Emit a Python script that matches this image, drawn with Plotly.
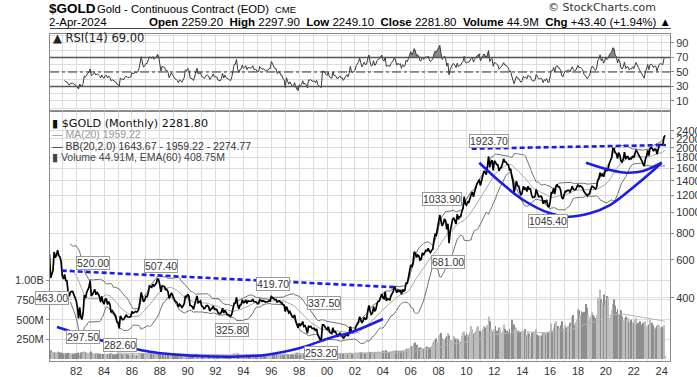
import numpy as np
import pandas as pd
import plotly.graph_objects as go

# ---------------- data (monthly, first bar = Jan 1980) ----------------
first_year = 1980

close_1980s = [
    653, 637, 494, 518, 535, 653, 614, 631, 666, 629, 619, 590,
    506, 489, 513, 482, 479, 426, 406, 425, 428, 427, 414, 400,
    387, 362, 320, 361, 325, 317, 342, 411, 397, 423, 436, 448,
    481, 408, 414, 429, 437, 413, 423, 416, 405, 382, 405, 382,
    373, 394, 394, 372, 384, 373, 342, 348, 341, 333, 329, 309,
    306, 288, 329, 321, 316, 317, 327, 333, 326, 325, 325, 327,
    345, 339, 344, 345, 343, 346, 357, 384, 423, 401, 383, 391,
    405, 405, 421, 453, 451, 447, 462, 453, 460, 468, 492, 484,
    458, 426, 457, 451, 451, 436, 437, 427, 397, 411, 421, 410,
    394, 387, 383, 377, 362, 373, 368, 359, 367, 375, 408, 401,
]
close_1990s = [
    415, 407, 368, 367, 363, 353, 372, 387, 408, 379, 384, 386,
    366, 363, 355, 358, 367, 368, 363, 347, 354, 357, 366, 353,
    354, 353, 341, 337, 337, 343, 357, 340, 349, 339, 334, 333,
    330, 328, 337, 354, 377, 378, 401, 371, 355, 369, 371, 391,
    379, 381, 391, 376, 387, 385, 384, 385, 394, 383, 383, 382,
    375, 376, 392, 389, 385, 387, 383, 382, 383, 383, 387, 387,
    405, 400, 396, 392, 392, 382, 385, 386, 379, 379, 371, 369,
    345, 364, 352, 340, 345, 334, 326, 325, 333, 311, 296, 290,
    304, 297, 301, 310, 294, 296, 288, 273, 294, 292, 294, 288,
    287, 288, 280, 286, 268, 262, 255, 255, 299, 299, 292, 288,
]
close_2000s = [
    284, 293, 277, 274, 272, 290, 277, 278, 273, 265, 270, 273,
    266, 267, 258, 264, 267, 271, 265, 274, 293, 279, 276, 279,
    282, 296, 301, 309, 326, 318, 305, 313, 324, 317, 319, 347,
    368, 348, 334, 338, 363, 346, 354, 375, 385, 386, 398, 416,
    400, 396, 426, 387, 395, 394, 391, 408, 416, 428, 453, 438,
    422, 434, 428, 435, 415, 437, 429, 434, 470, 464, 495, 517,
    568, 556, 582, 655, 643, 616, 632, 626, 599, 604, 646, 632,
    650, 665, 661, 679, 659, 650, 666, 673, 743, 789, 783, 834,
    923, 971, 916, 864, 885, 930, 918, 833, 884, 718, 816, 884,
    928, 943, 916, 883, 979, 927, 955, 955, 1008, 1040, 1182, 1096,
]
close_2010s = [
    1081, 1118, 1113, 1180, 1207, 1244, 1181, 1248, 1307, 1357, 1384, 1421,
    1333, 1411, 1439, 1556, 1536, 1500, 1628, 1825, 1620, 1725, 1746, 1566,
    1738, 1710, 1669, 1664, 1560, 1604, 1622, 1687, 1773, 1719, 1712, 1675,
    1664, 1578, 1595, 1472, 1392, 1234, 1312, 1395, 1326, 1323, 1250, 1202,
    1240, 1321, 1284, 1296, 1250, 1322, 1282, 1287, 1210, 1171, 1175, 1184,
    1278, 1213, 1183, 1183, 1190, 1172, 1095, 1135, 1115, 1142, 1065, 1061,
    1118, 1234, 1233, 1293, 1217, 1321, 1350, 1312, 1313, 1272, 1173, 1152,
    1211, 1253, 1249, 1267, 1268, 1242, 1270, 1321, 1281, 1271, 1275, 1303,
    1345, 1318, 1325, 1315, 1299, 1253, 1233, 1206, 1192, 1215, 1220, 1282,
    1321, 1316, 1293, 1284, 1306, 1413, 1437, 1529, 1472, 1514, 1465, 1523,
]
close_2020s = [
    1589, 1566, 1597, 1694, 1751, 1800, 1986, 1978, 1896, 1880, 1780, 1895,
    1850, 1734, 1715, 1769, 1906, 1771, 1817, 1818, 1757, 1784, 1776, 1829,
    1797, 1909, 1954, 1911, 1848, 1817, 1782, 1726, 1672, 1640, 1768, 1826,
    1945, 1836, 1986, 1999, 1982, 1929, 1970, 1966, 1870, 1995, 2057, 2072,
    2067, 2054, 2238, 2282,
]

# monthly volume, millions
volume_m_1980s = [
    95, 105, 110, 90, 85, 88, 80, 82, 95, 85, 78, 80,
    78, 70, 75, 72, 68, 80, 75, 70, 72, 66, 62, 70,
    72, 75, 85, 70, 78, 90, 82, 95, 88, 80, 72, 70,
    90, 95, 80, 70, 68, 72, 65, 70, 66, 68, 62, 64,
    66, 62, 60, 65, 70, 64, 72, 68, 60, 62, 58, 66,
    70, 75, 80, 66, 60, 62, 58, 64, 60, 56, 58, 55,
    58, 60, 56, 52, 55, 54, 58, 66, 78, 70, 62, 60,
    64, 60, 66, 80, 72, 62, 68, 62, 66, 78, 72, 70,
    68, 66, 62, 58, 56, 60, 54, 58, 62, 56, 58, 60,
    56, 54, 52, 50, 58, 56, 52, 54, 50, 52, 60, 62,
]
volume_m_1990s = [
    62, 58, 56, 52, 50, 48, 54, 66, 60, 56, 50, 48,
    58, 52, 50, 46, 48, 50, 48, 52, 48, 46, 50, 48,
    46, 44, 48, 46, 44, 50, 52, 48, 50, 46, 48, 46,
    48, 50, 52, 62, 72, 66, 80, 70, 62, 58, 56, 60,
    58, 54, 60, 56, 54, 58, 54, 52, 56, 54, 50, 52,
    50, 48, 56, 52, 50, 52, 50, 48, 52, 50, 48, 50,
    62, 66, 56, 52, 54, 56, 52, 50, 54, 56, 58, 60,
    66, 64, 62, 60, 64, 62, 66, 64, 70, 76, 80, 74,
    82, 70, 72, 74, 70, 72, 68, 76, 84, 72, 70, 66,
    64, 66, 68, 70, 80, 76, 72, 74, 96, 100, 78, 70,
]
volume_m_2000s = [
    76, 86, 72, 70, 66, 74, 64, 62, 66, 60, 64, 62,
    66, 62, 66, 60, 68, 62, 58, 62, 80, 68, 62, 60,
    70, 78, 74, 76, 86, 84, 80, 72, 78, 74, 70, 82,
    96, 90, 88, 80, 92, 84, 82, 90, 96, 92, 90, 100,
    104, 96, 108, 110, 96, 92, 90, 94, 100, 104, 112, 108,
    102, 98, 104, 100, 106, 110, 104, 112, 130, 126, 136, 142,
    170, 160, 150, 200, 210, 180, 150, 140, 150, 130, 140, 135,
    150, 140, 160, 150, 145, 150, 170, 210, 230, 240, 260, 220,
    300, 310, 330, 260, 240, 250, 270, 290, 330, 300, 250, 240,
    250, 290, 260, 230, 260, 250, 220, 230, 300, 340, 350, 300,
]
volume_m_2010s = [
    330, 310, 280, 340, 420, 380, 320, 340, 360, 400, 420, 330,
    360, 350, 380, 420, 400, 380, 430, 540, 480, 380, 360, 340,
    380, 420, 360, 330, 400, 380, 330, 360, 440, 380, 350, 360,
    340, 380, 330, 500, 400, 440, 380, 400, 360, 350, 330, 340,
    360, 340, 380, 310, 300, 340, 320, 280, 330, 340, 350, 320,
    380, 310, 300, 300, 280, 300, 340, 330, 320, 340, 330, 310,
    360, 450, 360, 400, 450, 480, 400, 420, 400, 430, 480, 380,
    380, 430, 400, 420, 410, 460, 420, 540, 560, 440, 470, 500,
    640, 620, 560, 610, 590, 600, 520, 700, 650, 560, 520, 540,
    600, 560, 540, 520, 560, 780, 640, 880, 760, 720, 820, 680,
]
volume_m_2020s = [
    750, 800, 780, 520, 560, 620, 700, 760, 680, 600, 640, 560,
    560, 620, 540, 500, 520, 540, 500, 520, 460, 480, 500, 470,
    450, 500, 520, 440, 460, 480, 440, 420, 460, 430, 480, 420,
    420, 440, 500, 410, 460, 430, 400, 380, 420, 440, 430, 400,
    410, 400, 430, 45,
]

x_tick_years = list(range(1982, 2025, 2))
x_tick_text = ["82", "84", "86", "88", "90", "92", "94", "96", "98", "00", "02",
               "04", "06", "08", "10", "12", "14", "16", "18", "20", "22", "24"]
price_ticks = [400, 600, 800, 1000, 1200, 1400, 1600, 1800, 2000, 2200, 2400]
volume_ticks = [250e6, 500e6, 750e6, 1e9]
volume_tick_text = ["250M", "500M", "750M", "1.00B"]
rsi_ticks = [10, 30, 50, 70, 90]

# price-point labels (text, label placement year, label placement price)
label_text = ["463.00", "520.00", "297.50", "282.60", "507.40", "419.70", "325.80",
              "337.50", "253.20", "1033.90", "681.00", "1923.70", "1045.40"]
label_year = [1980.23, 1983.24, 1982.52, 1985.14, 1988.08, 1996.15, 1993.21,
              1999.81, 1999.53, 2008.21, 2008.67, 2011.65, 2015.88]
label_price = [398.8, 580.3, 262.4, 240.8, 561.9, 463.4, 282.8,
               377.9, 221.0, 1153, 586.6, 2148, 911.0]

# hand-drawn trendlines (anchor points: year, price)
cup1_year = [1980.62, 1983.71, 1987.29, 1990.88, 1993.25, 1995.69, 1998.06, 2000.42, 2001.64, 2004.01]
cup1_price = [292.2, 254.1, 224.0, 214.0, 212.4, 216.9, 233.2, 262.4, 274.8, 318.3]
cup2_year = [2010.92, 2012.40, 2014.07, 2015.99, 2017.19, 2018.86, 2020.29, 2021.73, 2023.16, 2024.00]
cup2_price = [1702, 1389, 1141, 989, 954, 989, 1081, 1270, 1519, 1702]
cup3_year = [2018.57, 2020.29, 2021.49, 2022.68, 2024.00]
cup3_price = [1702, 1574, 1529, 1557, 1702]
rim1_year = [1980.96, 2005.01]
rim1_price = [534.6, 447.3]
rim2_year = [2010.37, 2024.31]
rim2_price = [1978.6, 2058]

# ---------------- derived series ----------------
close = np.array(close_1980s + close_1990s + close_2000s + close_2010s + close_2020s, dtype=float)
volume = np.array(volume_m_1980s + volume_m_1990s + volume_m_2000s + volume_m_2010s + volume_m_2020s,
                  dtype=float) * 1e6
n = len(close)
t = first_year + np.arange(n) / 12.0

s = pd.Series(close)
ma20 = s.rolling(20).mean()
sd20 = s.rolling(20).std(ddof=0)
bb_up = ma20 + 2 * sd20
bb_lo = ma20 - 2 * sd20

d = np.diff(close)
gain = np.where(d > 0, d, 0.0)
loss = np.where(d < 0, -d, 0.0)
rsi = np.full(n, np.nan)
ag = gain[:14].mean()
al = loss[:14].mean()
rsi[14] = 100 - 100 / (1 + ag / al) if al > 0 else 100
for i in range(15, n):
    ag = (ag * 13 + gain[i - 1]) / 14
    al = (al * 13 + loss[i - 1]) / 14
    rsi[i] = 100 - 100 / (1 + ag / al) if al > 0 else 100

vol_ema = pd.Series(volume).ewm(span=60, adjust=False).mean().to_numpy()
vol_ema[:59] = np.nan

up = np.r_[True, close[1:] >= close[:-1]]
vol_colors = np.where(up, "#bdbdbd", "#8e8e8e")

# ---------------- layout helpers ----------------
FIG_W, FIG_H = 697, 377
L, R, T, B = 50, 670, 34, 361


def fx(px):
    return (px - L) / (R - L)


def fy(py):
    return (B - py) / (B - T)


split = fy(111)
GRID = "#dddddd"
FRAME = "#8a8a8a"
BLUE = "rgb(28,28,232)"
TICKFONT = dict(family="Liberation Sans, Arial", size=11, color="#333333")

fig = go.Figure()

# volume
fig.add_trace(go.Bar(x=t, y=volume, marker=dict(color=vol_colors, line=dict(width=0)),
                     width=0.8 / 12, xaxis="x", yaxis="y", hoverinfo="skip"))
fig.add_trace(go.Scatter(x=t, y=vol_ema, mode="lines", line=dict(color="#b5b5b5", width=1),
                         xaxis="x", yaxis="y", hoverinfo="skip"))

# bollinger + MA
fig.add_trace(go.Scatter(x=t, y=bb_up, mode="lines", line=dict(color="#707070", width=1),
                         xaxis="x", yaxis="y2", hoverinfo="skip"))
fig.add_trace(go.Scatter(x=t, y=bb_lo, mode="lines", line=dict(color="#707070", width=1),
                         xaxis="x", yaxis="y2", hoverinfo="skip"))
fig.add_trace(go.Scatter(x=t, y=ma20, mode="lines", line=dict(color="#a8a8a8", width=1),
                         xaxis="x", yaxis="y2", hoverinfo="skip"))
# price
fig.add_trace(go.Scatter(x=t, y=close, mode="lines", line=dict(color="#000000", width=1.7),
                         xaxis="x", yaxis="y2", hoverinfo="skip"))

# trendlines
for yr, pr, dash in [(cup1_year, cup1_price, "solid"), (cup2_year, cup2_price, "solid"),
                     (cup3_year, cup3_price, "solid"), (rim1_year, rim1_price, "5px,3px"),
                     (rim2_year, rim2_price, "5px,3px")]:
    fig.add_trace(go.Scatter(x=yr, y=pr, mode="lines",
                             line=dict(color=BLUE, width=2.6, dash=dash, shape="spline"),
                             xaxis="x", yaxis="y2", hoverinfo="skip"))

# RSI with shaded extremes
rsi_valid = ~np.isnan(rsi)
base70 = np.where(rsi_valid, 70.0, np.nan)
base30 = np.where(rsi_valid, 30.0, np.nan)
fig.add_trace(go.Scatter(x=t, y=base70, mode="lines", line=dict(width=0, color="rgba(0,0,0,0)"),
                         xaxis="x2", yaxis="y3", hoverinfo="skip"))
fig.add_trace(go.Scatter(x=t, y=np.maximum(rsi, 70), mode="lines", fill="tonexty",
                         fillcolor="#8a8a8a", line=dict(width=0, color="rgba(0,0,0,0)"),
                         xaxis="x2", yaxis="y3", hoverinfo="skip"))
fig.add_trace(go.Scatter(x=t, y=base30, mode="lines", line=dict(width=0, color="rgba(0,0,0,0)"),
                         xaxis="x2", yaxis="y3", hoverinfo="skip"))
fig.add_trace(go.Scatter(x=t, y=np.minimum(rsi, 30), mode="lines", fill="tonexty",
                         fillcolor="#8a8a8a", line=dict(width=0, color="rgba(0,0,0,0)"),
                         xaxis="x2", yaxis="y3", hoverinfo="skip"))
fig.add_trace(go.Scatter(x=t, y=rsi, mode="lines", line=dict(color="#3a3a3a", width=1),
                         xaxis="x2", yaxis="y3", hoverinfo="skip"))

xaxis_common = dict(range=[1980.12, 2024.6], showgrid=True, gridcolor=GRID, gridwidth=1,
                    minor=dict(tickmode="linear", tick0=1980, dtick=1, showgrid=True,
                               gridcolor=GRID, gridwidth=1, ticks=""),
                    showline=True, mirror=True, linecolor=FRAME, linewidth=1,
                    zeroline=False, ticks="", automargin=False)

fig.update_layout(
    width=FIG_W, height=FIG_H,
    margin=dict(l=L, r=FIG_W - R, t=T, b=FIG_H - B, autoexpand=False),
    paper_bgcolor="white", plot_bgcolor="white",
    showlegend=False,
    xaxis=dict(domain=[0, 1], anchor="y", tickmode="array", tickvals=x_tick_years,
               ticktext=x_tick_text, tickfont=TICKFONT, **xaxis_common),
    xaxis2=dict(domain=[0, 1], anchor="y3", matches="x", showticklabels=False, **xaxis_common),
    yaxis=dict(domain=[0, split], anchor="x", side="left", range=[-25.4e6, 3.152e9],
               tickmode="array", tickvals=volume_ticks, ticktext=volume_tick_text,
               tickfont=TICKFONT, showgrid=True, gridcolor=GRID, zeroline=False, automargin=False,
               ticks="outside", ticklen=3, tickcolor=FRAME, showline=True, linecolor=FRAME),
    yaxis2=dict(overlaying="y", anchor="x", side="right", type="log",
                range=[2.3071, 3.4720], tickmode="array", tickvals=price_ticks,
                ticktext=[str(v) for v in price_ticks], tickfont=TICKFONT, automargin=False,
                showgrid=True, gridcolor=GRID, zeroline=False,
                ticks="outside", ticklen=3, tickcolor=FRAME, showline=True, linecolor=FRAME),
    yaxis3=dict(domain=[split, 1], anchor="x2", side="right", range=[-3.8, 102.4],
                tickmode="array", tickvals=rsi_ticks, ticktext=[str(v) for v in rsi_ticks],
                tickfont=TICKFONT, showgrid=True, gridcolor=GRID, automargin=False,
                minor=dict(tickmode="linear", tick0=0, dtick=10, showgrid=True,
                           gridcolor=GRID, ticks=""),
                zeroline=False, ticks="outside", ticklen=3, tickcolor=FRAME,
                showline=True, mirror=True, linecolor=FRAME),
)

shapes = [
    dict(type="line", xref="paper", yref="y3", x0=0, x1=1, y0=70, y1=70,
         line=dict(color="#555555", width=1.3)),
    dict(type="line", xref="paper", yref="y3", x0=0, x1=1, y0=30, y1=30,
         line=dict(color="#555555", width=1.3)),
    dict(type="line", xref="paper", yref="y3", x0=0, x1=1, y0=50, y1=50,
         line=dict(color="#333333", width=1, dash="dashdot")),
    dict(type="line", xref="paper", yref="paper", x0=fx(50), x1=fx(671), y0=fy(28.5), y1=fy(28.5),
         line=dict(color="#444444", width=1)),
]
fig.update_layout(shapes=shapes)

ann = []


def note(px, py, text, size, color="#000000", family="Liberation Sans, Arial", xanchor="left"):
    ann.append(dict(x=fx(px), y=fy(py), xref="paper", yref="paper", text=text, showarrow=False,
                    xanchor=xanchor, yanchor="middle", font=dict(family=family, size=size, color=color)))


# header
note(47, 8.5, "<b>$GOLD</b>", 13.5)
note(95, 9, "Gold - Continuous Contract (EOD)", 11.3)
note(273, 9.5, "CME", 9.5)
note(546, 7.5, "&#169; StockCharts.com", 11, color="#333333", family="DejaVu Sans")
note(47, 22.5, "2-Apr-2024", 11.5)
note(673, 22.5, "<b>Open</b> 2259.20  <b>High</b> 2297.90  <b>Low</b> 2249.10  <b>Close</b> 2281.80  "
     "<b>Volume</b> 44.9M  <b>Chg</b> +43.40 (+1.94%) ▲", 11.5, xanchor="right")

# panel legends
note(51, 37.5, "▲ RSI(14) 69.00", 11.5, color="#222222", family="DejaVu Sans")
note(50, 123.3, "▮ $GOLD (Monthly) 2281.80", 11.2, color="#111111", family="DejaVu Sans")
note(50, 134.3, "— MA(20) 1959.22", 10.5, color="#9a9a9a")
note(50, 145.7, "— BB(20,2.0) 1643.67 - 1959.22 - 2274.77", 10.5, color="#333333")
note(50, 156.7, "▮ Volume 44.91M, EMA(60) 408.75M", 10.5, color="#444444")

# price-point labels
for txt, yr, pr in zip(label_text, label_year, label_price):
    ann.append(dict(x=yr, y=np.log10(pr), xref="x", yref="y2", text=txt, showarrow=False,
                    xanchor="center", yanchor="middle", bgcolor="white", bordercolor="#9a9a9a",
                    borderwidth=1, borderpad=0,
                    font=dict(family="Liberation Sans, Arial", size=10.5, color="#333333")))

fig.update_layout(annotations=ann)

fig.write_html("out.html", config={"displayModeBar": False},
               post_script="document.body.style.margin='0';document.body.style.padding='0';")
